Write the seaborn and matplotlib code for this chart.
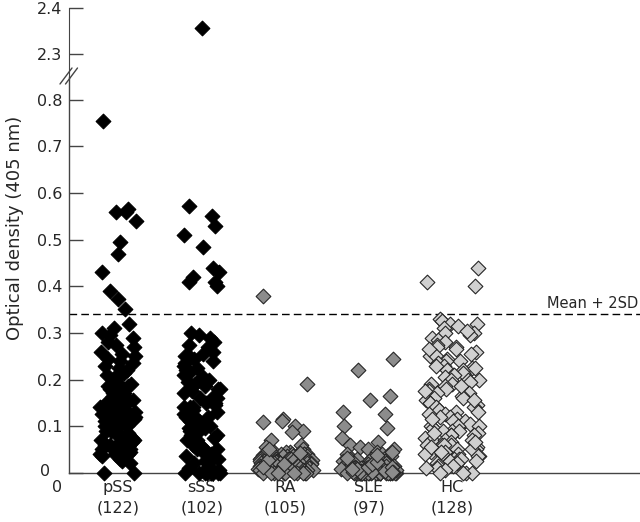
import numpy as np
import pandas as pd
import matplotlib
matplotlib.use("Agg")
import matplotlib.pyplot as plt
from matplotlib.lines import Line2D
import seaborn as sns

# Groups and sample sizes
groups = ["pSS", "sSS", "RA", "SLE", "HC"]
counts = [122, 102, 105, 97, 128]

# Optical density values
pss = [0.755, 0.565, 0.56, 0.56, 0.54, 0.495, 0.47, 0.43, 0.39, 0.372,
       0.352, 0.318, 0.31, 0.30, 0.295, 0.29, 0.28, 0.275, 0.27, 0.26,
       0.255, 0.25, 0.245, 0.24, 0.235, 0.23, 0.225, 0.22, 0.215, 0.21,
       0.21, 0.205, 0.20, 0.195, 0.19, 0.19, 0.185, 0.18, 0.18, 0.18,
       0.175, 0.17, 0.17, 0.165, 0.16, 0.16, 0.16, 0.155, 0.15, 0.15,
       0.15, 0.15, 0.145, 0.14, 0.14, 0.14, 0.14, 0.135, 0.13, 0.13,
       0.13, 0.13, 0.125, 0.12, 0.12, 0.12, 0.12, 0.115, 0.11, 0.11,
       0.11, 0.11, 0.105, 0.10, 0.10, 0.10, 0.10, 0.10, 0.095, 0.09,
       0.09, 0.09, 0.09, 0.085, 0.08, 0.08, 0.08, 0.08, 0.075, 0.07,
       0.07, 0.07, 0.07, 0.065, 0.06, 0.06, 0.06, 0.06, 0.06, 0.055,
       0.05, 0.05, 0.05, 0.05, 0.05, 0.05, 0.045, 0.04, 0.04, 0.04,
       0.04, 0.035, 0.03, 0.025, 0.02, 0.0, 0.0, 0.185, 0.165, 0.145,
       0.125, 0.105]
sss = [2.356, 0.572, 0.55, 0.53, 0.51, 0.485, 0.44, 0.43, 0.42, 0.41,
       0.41, 0.40, 0.30, 0.295, 0.29, 0.28, 0.275, 0.27, 0.26, 0.255,
       0.25, 0.25, 0.245, 0.24, 0.235, 0.23, 0.225, 0.22, 0.215, 0.21,
       0.205, 0.20, 0.20, 0.195, 0.19, 0.185, 0.18, 0.18, 0.175, 0.17,
       0.165, 0.16, 0.16, 0.155, 0.15, 0.15, 0.145, 0.14, 0.14, 0.135,
       0.13, 0.13, 0.125, 0.12, 0.12, 0.115, 0.11, 0.11, 0.105, 0.10,
       0.10, 0.10, 0.095, 0.09, 0.09, 0.085, 0.08, 0.08, 0.075, 0.07,
       0.07, 0.065, 0.06, 0.06, 0.055, 0.05, 0.05, 0.045, 0.04, 0.04,
       0.035, 0.03, 0.03, 0.025, 0.02, 0.02, 0.015, 0.01, 0.01, 0.005,
       0.0, 0.0, 0.0, 0.0, 0.0, 0.0, 0.0, 0.0, 0.14, 0.06,
       0.185, 0.095]
ra = [0.38, 0.19, 0.115, 0.11, 0.108, 0.10, 0.09, 0.088, 0.07, 0.06,
      0.055, 0.05, 0.045, 0.045, 0.045, 0.04, 0.04, 0.04, 0.04, 0.04,
      0.04, 0.038, 0.035, 0.035, 0.035, 0.035, 0.035, 0.035, 0.032, 0.03,
      0.03, 0.03, 0.03, 0.03, 0.03, 0.03, 0.03, 0.028, 0.025, 0.025,
      0.025, 0.025, 0.025, 0.025, 0.025, 0.025, 0.025, 0.022, 0.02, 0.02,
      0.02, 0.02, 0.02, 0.02, 0.02, 0.02, 0.02, 0.02, 0.018, 0.015,
      0.015, 0.015, 0.015, 0.015, 0.015, 0.015, 0.015, 0.015, 0.012, 0.01,
      0.01, 0.01, 0.01, 0.01, 0.01, 0.01, 0.01, 0.01, 0.01, 0.008,
      0.005, 0.005, 0.005, 0.005, 0.005, 0.005, 0.005, 0.005, 0.003, 0.0,
      0.0, 0.0, 0.0, 0.0, 0.0, 0.0, 0.0, 0.0, 0.0, 0.0,
      0.042, 0.028, 0.018, 0.012, 0.05]
sle = [0.245, 0.22, 0.165, 0.155, 0.13, 0.125, 0.10, 0.095, 0.075, 0.065,
       0.06, 0.055, 0.05, 0.05, 0.045, 0.04, 0.04, 0.035, 0.035, 0.03,
       0.03, 0.03, 0.028, 0.025, 0.025, 0.025, 0.022, 0.02, 0.02, 0.02,
       0.02, 0.018, 0.015, 0.015, 0.015, 0.015, 0.015, 0.012, 0.01, 0.01,
       0.01, 0.01, 0.01, 0.01, 0.01, 0.008, 0.008, 0.005, 0.005, 0.005,
       0.005, 0.005, 0.005, 0.005, 0.005, 0.005, 0.003, 0.003, 0.003, 0.003,
       0.0, 0.0, 0.0, 0.0, 0.0, 0.0, 0.0, 0.0, 0.0, 0.0,
       0.0, 0.0, 0.0, 0.0, 0.0, 0.0, 0.0, 0.0, 0.0, 0.0,
       0.002, 0.002, 0.002, 0.004, 0.004, 0.006, 0.007, 0.009, 0.012, 0.018,
       0.022, 0.032, 0.038, 0.045, 0.012, 0.001, 0.001]
hc = [0.44, 0.41, 0.40, 0.33, 0.325, 0.32, 0.32, 0.315, 0.31, 0.30,
      0.30, 0.295, 0.29, 0.285, 0.28, 0.275, 0.27, 0.27, 0.265, 0.26,
      0.255, 0.25, 0.25, 0.245, 0.24, 0.24, 0.235, 0.23, 0.23, 0.225,
      0.22, 0.22, 0.215, 0.21, 0.21, 0.205, 0.20, 0.20, 0.20, 0.195,
      0.19, 0.19, 0.185, 0.18, 0.18, 0.175, 0.17, 0.17, 0.165, 0.16,
      0.16, 0.16, 0.155, 0.15, 0.15, 0.145, 0.14, 0.14, 0.135, 0.13,
      0.13, 0.125, 0.12, 0.12, 0.115, 0.11, 0.11, 0.105, 0.10, 0.10,
      0.10, 0.095, 0.09, 0.09, 0.09, 0.085, 0.08, 0.08, 0.08, 0.075,
      0.07, 0.07, 0.07, 0.065, 0.06, 0.06, 0.06, 0.06, 0.055, 0.05,
      0.05, 0.05, 0.05, 0.045, 0.045, 0.04, 0.04, 0.04, 0.035, 0.035,
      0.03, 0.03, 0.03, 0.025, 0.025, 0.02, 0.02, 0.015, 0.015, 0.01,
      0.01, 0.005, 0.0, 0.0, 0.0, 0.0, 0.185, 0.155, 0.125, 0.085,
      0.065, 0.225, 0.265, 0.305, 0.175, 0.115, 0.055, 0.045]
cutoff = 0.34  # mean + 2SD of controls

values = [pss, sss, ra, sle, hc]
df = pd.DataFrame({
    "group": np.repeat(groups, [len(v) for v in values]),
    "od": np.concatenate(values),
})

face_colors = ["black", "black", "#8c8c8c", "#8c8c8c", "#d0d0d0"]
edge_colors = ["black", "black", "#262626", "#262626", "#262626"]
jitters = [0.22, 0.22, 0.33, 0.33, 0.33]

sns.set_style("ticks")
plt.rcParams["font.family"] = ["DejaVu Sans"]

fig = plt.figure(figsize=(6.4, 5.22), dpi=100)
ax_top = fig.add_axes([0.108, 0.8525, 0.892, 0.1322])
ax = fig.add_axes([0.108, 0.0944, 0.892, 0.7581])

np.random.seed(7)
for g, fc, ec, jit in zip(groups, face_colors, edge_colors, jitters):
    sub = df[df["group"] == g]
    low = sub[sub["od"] < 1]
    high = sub[sub["od"] >= 1]
    sns.stripplot(data=low, x="group", y="od", order=groups, jitter=jit,
                  marker="D", size=7.5, color=fc, edgecolor=ec, linewidth=0.8,
                  ax=ax, clip_on=False, zorder=3)
    if len(high):
        sns.stripplot(data=high, x="group", y="od", order=groups, jitter=0.15,
                      marker="D", size=7.5, color=fc, edgecolor=ec,
                      linewidth=0.8, ax=ax_top, zorder=3)

xlim = (-0.587, 6.25)
spine_color = "#444444"
W, H = 640.0, 522.0

# lower panel
ax.set_xlim(*xlim)
ax.set_ylim(0, 0.849)
ax.set_yticks(np.arange(0, 0.81, 0.1))
# the "0" of the y axis is placed by hand further left (see below)
ax.set_yticklabels([""] + [f"{t:.1f}" for t in np.arange(0.1, 0.81, 0.1)])
ax.set_xticks(range(len(groups)))
ax.set_xticklabels([f"{g}\n({n})" for g, n in zip(groups, counts)],
                   linespacing=1.45)
ax.tick_params(axis="x", length=0, pad=5, labelsize=11.5)
ax.tick_params(axis="y", direction="in", length=10, width=1,
               color=spine_color, labelsize=11.5, pad=5)
ax.set_xlabel("")
ax.set_ylabel("")
for s in ["top", "right"]:
    ax.spines[s].set_visible(False)
for s in ["left", "bottom"]:
    ax.spines[s].set_color(spine_color)
    ax.spines[s].set_linewidth(1)

ax.axhline(cutoff, color="black", lw=1, dashes=(5.5, 3), zorder=2)
ax.text(0.997, cutoff + 0.006, "Mean + 2SD", transform=ax.get_yaxis_transform(),
        ha="right", va="bottom", fontsize=10.5)

# upper panel
ax_top.set_xlim(*xlim)
ax_top.set_ylim(2.25, 2.4)
ax_top.set_yticks([2.3, 2.4])
ax_top.set_yticklabels(["2.3", "2.4"])
ax_top.set_xticks([])
ax_top.set_xlabel("")
ax_top.set_ylabel("")
ax_top.tick_params(axis="y", direction="in", length=10, width=1,
                   color=spine_color, labelsize=11.5, pad=5)
for s in ["top", "right", "bottom"]:
    ax_top.spines[s].set_visible(False)
ax_top.spines["left"].set_color(spine_color)

# axis break marks
for cx in (66.0, 71.5):
    fig.add_artist(Line2D([(cx - 6) / W, (cx + 6) / W],
                          [1 - 84 / H, 1 - 68 / H],
                          color=spine_color, lw=1))

fig.text(15 / W, 1 - 228 / H, "Optical density (405 nm)", rotation=90,
         ha="center", va="center", fontsize=13)
fig.text(45 / W, 1 - 472 / H, "0", ha="center", va="center", fontsize=11.5)
fig.text(57 / W, 1 - 488 / H, "0", ha="center", va="center", fontsize=11.5)

fig.savefig("out.png", dpi=100)
